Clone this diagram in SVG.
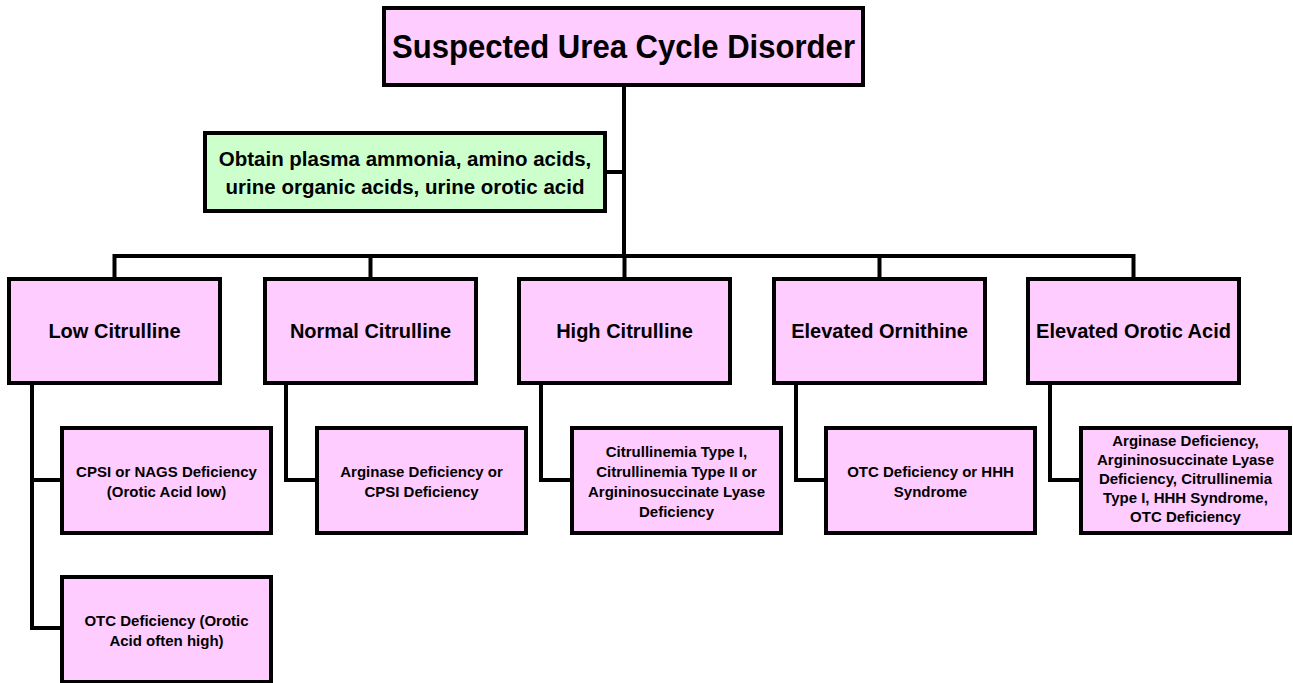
<svg xmlns="http://www.w3.org/2000/svg" width="1293" height="683" viewBox="0 0 1293 683">
<style>
.pk{fill:#FFCCFF;stroke:#000;stroke-width:4}
.gr{fill:#CCFFCC;stroke:#000;stroke-width:4}
.ln{fill:none;stroke:#000;stroke-width:4;stroke-linejoin:miter;stroke-linecap:square}
text{font-family:"Liberation Sans",Arial,sans-serif;font-weight:bold;fill:#000;text-anchor:middle}
.t1{font-size:34px}
.t2{font-size:20.5px}
.t3{font-size:20px}
.t4{font-size:15px}
</style>
<rect width="1293" height="683" fill="#fff"/>
<g id="connectors">
<path class="ln" d="M624 85 V256"/>
<path class="ln" d="M605 172 H624"/>
<path class="ln" d="M114.5 279 V256 H1133.5 V279"/>
<path class="ln" d="M370.5 256 V279"/>
<path class="ln" d="M624.5 256 V279"/>
<path class="ln" d="M879.5 256 V279"/>
<path class="ln" d="M32 383 V628 H62"/>
<path class="ln" d="M32 480 H62"/>
<path class="ln" d="M286 383 V480 H317"/>
<path class="ln" d="M541 383 V480 H572"/>
<path class="ln" d="M796 383 V480 H826"/>
<path class="ln" d="M1050 383 V480 H1081"/>
</g>
<g id="n-top"><rect class="pk" x="384" y="8" width="479" height="77"/><text class="t1" x="623.5" y="58" textLength="463" lengthAdjust="spacingAndGlyphs">Suspected Urea Cycle Disorder</text></g>
<g id="n-obtain"><rect class="gr" x="205" y="133" width="400" height="78"/><text class="t2" x="405" y="166">Obtain plasma ammonia, amino acids,</text><text class="t2" x="405" y="194">urine organic acids, urine orotic acid</text></g>
<g id="n-low"><rect class="pk" x="9" y="279" width="211" height="104"/><text class="t3" x="114.5" y="338">Low Citrulline</text></g>
<g id="n-normal"><rect class="pk" x="265" y="279" width="211" height="104"/><text class="t3" x="370.5" y="338">Normal Citrulline</text></g>
<g id="n-high"><rect class="pk" x="519" y="279" width="211" height="104"/><text class="t3" x="624.5" y="338">High Citrulline</text></g>
<g id="n-orn"><rect class="pk" x="774" y="279" width="211" height="104"/><text class="t3" x="879.5" y="338">Elevated Ornithine</text></g>
<g id="n-orotic"><rect class="pk" x="1028" y="279" width="211" height="104"/><text class="t3" x="1133.5" y="338">Elevated Orotic Acid</text></g>
<g id="n-cpsi"><rect class="pk" x="62" y="428" width="209" height="105"/><text class="t4" x="166.5" y="477">CPSI or NAGS Deficiency</text><text class="t4" x="166.5" y="497">(Orotic Acid low)</text></g>
<g id="n-otc"><rect class="pk" x="62" y="577" width="209" height="105"/><text class="t4" x="166.5" y="626">OTC Deficiency (Orotic</text><text class="t4" x="166.5" y="646">Acid often high)</text></g>
<g id="n-arg"><rect class="pk" x="317" y="428" width="209" height="105"/><text class="t4" x="421.5" y="477">Arginase Deficiency or</text><text class="t4" x="421.5" y="497">CPSI Deficiency</text></g>
<g id="n-cit"><rect class="pk" x="572" y="428" width="209" height="105"/><text class="t4" x="676.5" y="457">Citrullinemia Type I,</text><text class="t4" x="676.5" y="477">Citrullinemia Type II or</text><text class="t4" x="676.5" y="497">Argininosuccinate Lyase</text><text class="t4" x="676.5" y="517">Deficiency</text></g>
<g id="n-hhh"><rect class="pk" x="826" y="428" width="209" height="105"/><text class="t4" x="930.5" y="477">OTC Deficiency or HHH</text><text class="t4" x="930.5" y="497">Syndrome</text></g>
<g id="n-list"><rect class="pk" x="1081" y="428" width="209" height="105"/><text class="t4" x="1185.5" y="446">Arginase Deficiency,</text><text class="t4" x="1185.5" y="465">Argininosuccinate Lyase</text><text class="t4" x="1185.5" y="484">Deficiency, Citrullinemia</text><text class="t4" x="1185.5" y="503">Type I, HHH Syndrome,</text><text class="t4" x="1185.5" y="522">OTC Deficiency</text></g>
</svg>
